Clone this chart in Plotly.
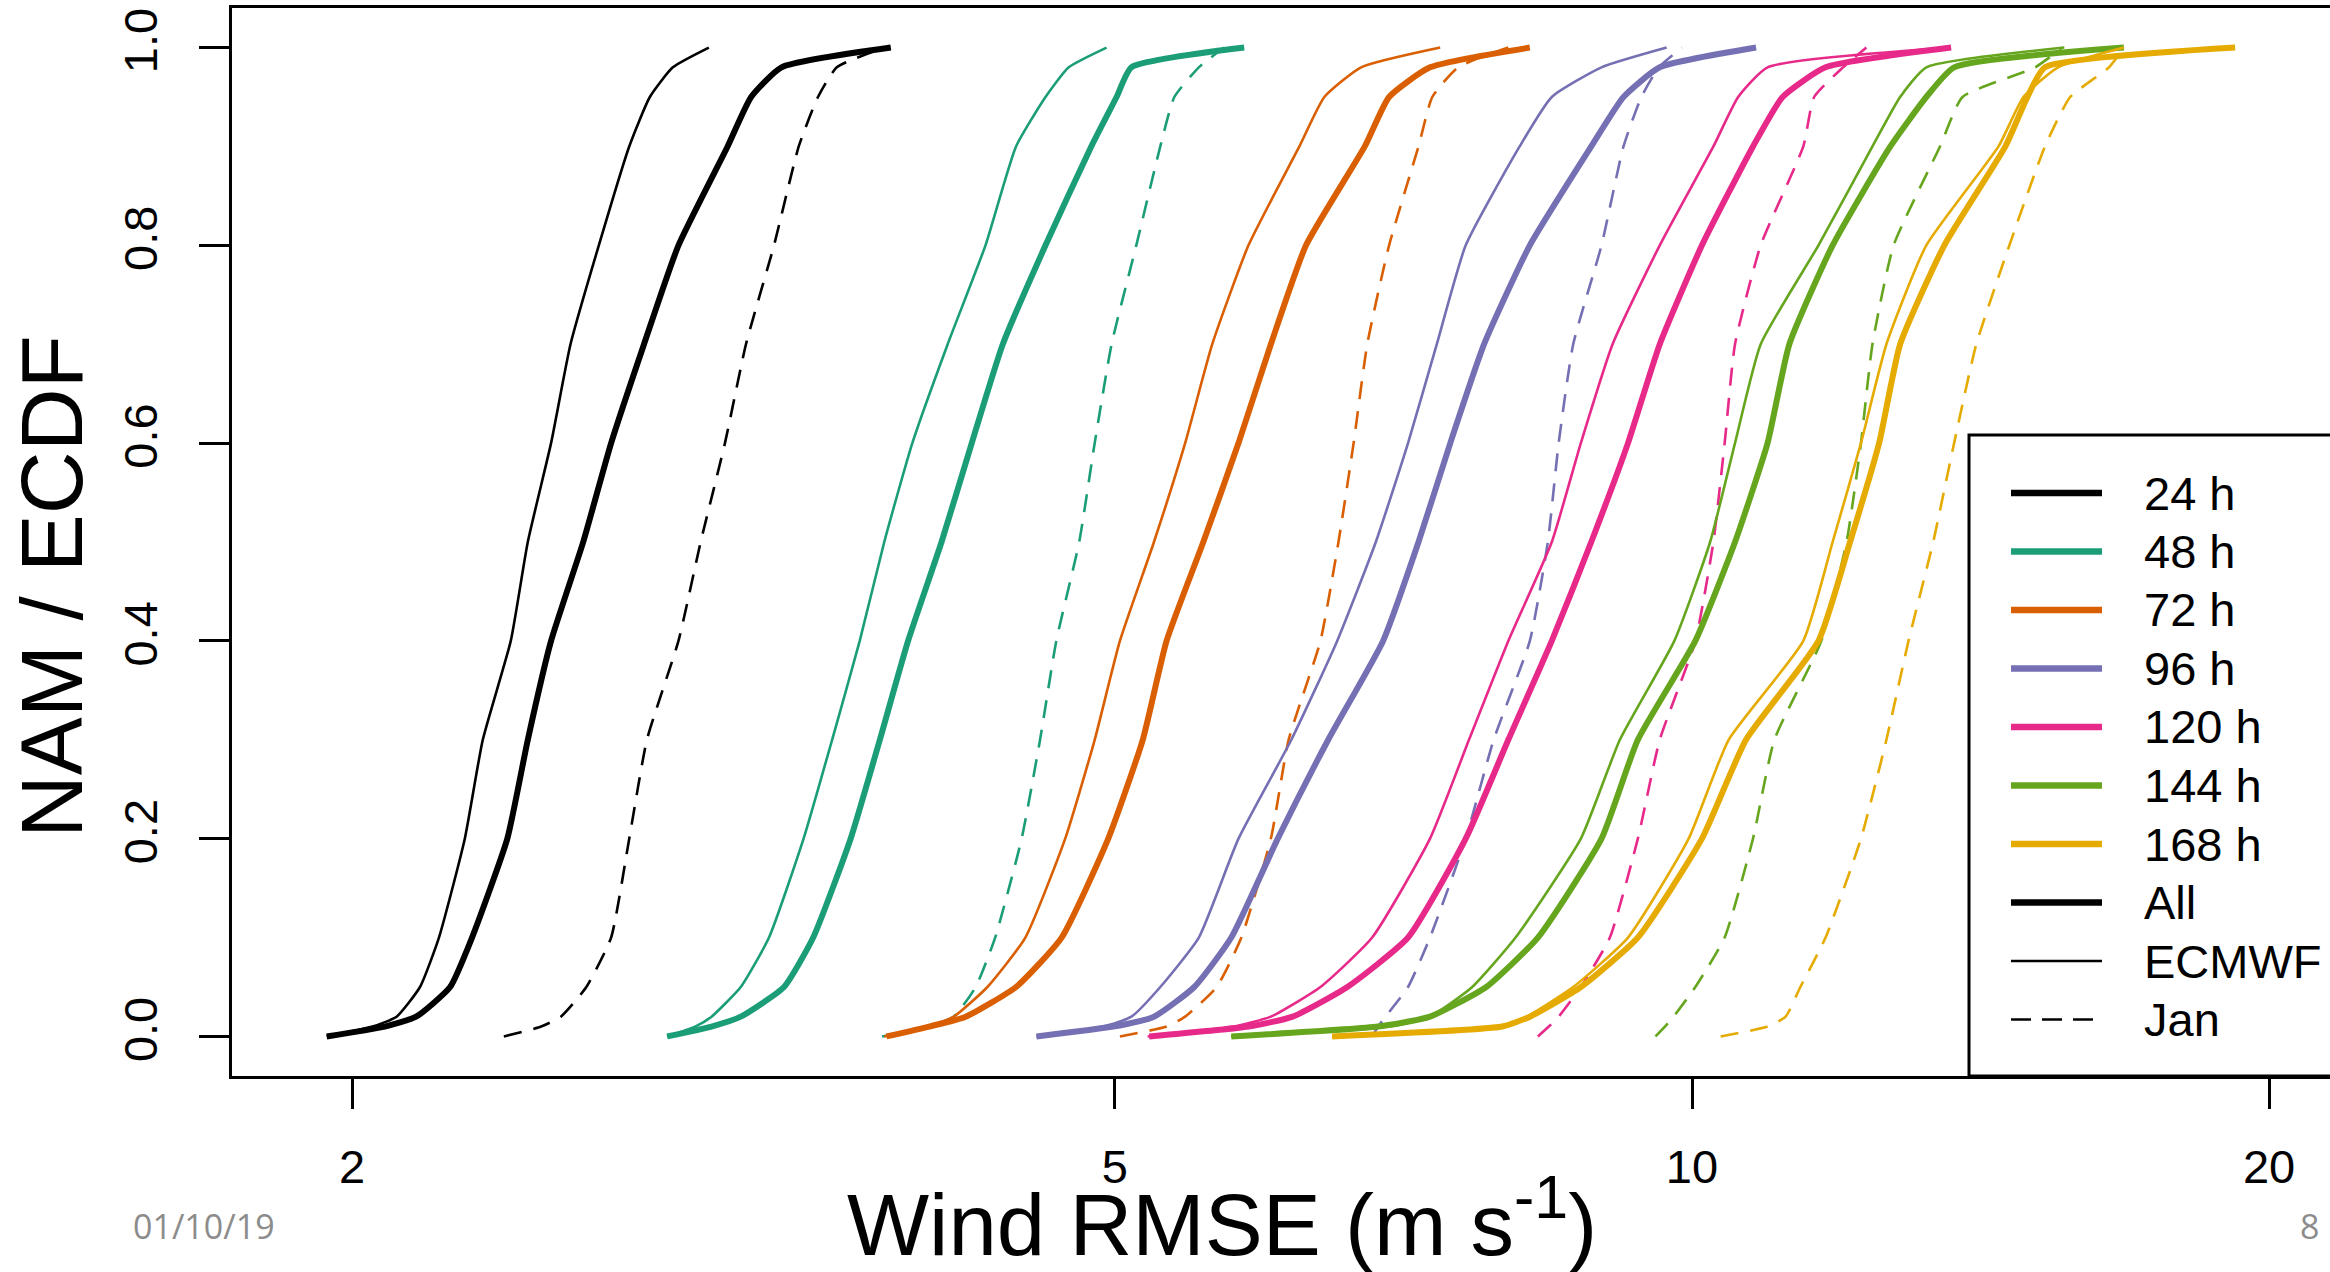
import plotly.graph_objects as go

# ---------------- data ----------------
PROB = [0, 0.01, 0.02, 0.05, 0.1, 0.2, 0.3, 0.4, 0.5, 0.6, 0.7, 0.8, 0.9, 0.95, 0.98, 1.0]

LEADS = ["24 h", "48 h", "72 h", "96 h", "120 h", "144 h", "168 h"]
COLORS = ["#000000", "#1B9E77", "#D95F02", "#7570B3", "#E7298A", "#66A61E", "#E6AB02"]

# Wind RMSE (m s-1) at each ECDF level in PROB
ALL_24 = [1.94, 2.08, 2.16, 2.25, 2.31, 2.41, 2.47, 2.54, 2.64, 2.73, 2.84, 2.96, 3.14, 3.23, 3.35, 3.82]
ALL_48 = [2.92, 3.08, 3.19, 3.36, 3.48, 3.64, 3.77, 3.90, 4.06, 4.21, 4.37, 4.60, 4.86, 5.01, 5.10, 5.84]
ALL_72 = [3.80, 4.00, 4.18, 4.44, 4.69, 4.96, 5.17, 5.32, 5.56, 5.80, 6.03, 6.29, 6.75, 6.95, 7.30, 8.23]
ALL_96 = [4.55, 4.99, 5.24, 5.50, 5.75, 6.08, 6.46, 6.90, 7.20, 7.48, 7.79, 8.23, 8.86, 9.21, 9.62, 10.80]
ALL_120 = [5.21, 5.87, 6.19, 6.61, 7.11, 7.62, 8.02, 8.45, 8.86, 9.26, 9.62, 10.12, 10.76, 11.15, 11.74, 13.65]
ALL_144 = [5.75, 6.86, 7.30, 7.81, 8.31, 8.97, 9.37, 10.04, 10.53, 10.95, 11.24, 11.84, 12.69, 13.25, 13.70, 16.80]
ALL_168 = [6.49, 7.96, 8.23, 8.75, 9.37, 10.12, 10.67, 11.64, 12.09, 12.52, 12.84, 13.54, 14.57, 14.96, 15.28, 19.20]

ECMWF_24 = [1.94, 2.05, 2.11, 2.17, 2.22, 2.29, 2.34, 2.42, 2.47, 2.54, 2.60, 2.69, 2.79, 2.86, 2.94, 3.07]
ECMWF_48 = [2.92, 3.02, 3.08, 3.19, 3.30, 3.44, 3.56, 3.68, 3.79, 3.92, 4.09, 4.28, 4.44, 4.60, 4.73, 4.95]
ECMWF_72 = [3.79, 4.00, 4.12, 4.29, 4.49, 4.71, 4.88, 5.03, 5.24, 5.44, 5.62, 5.87, 6.24, 6.43, 6.72, 7.39]
ECMWF_96 = [4.55, 4.93, 5.10, 5.28, 5.53, 5.80, 6.18, 6.53, 6.84, 7.11, 7.36, 7.62, 8.13, 8.45, 8.97, 9.70]
ECMWF_120 = [5.20, 5.77, 6.03, 6.40, 6.81, 7.30, 7.65, 8.02, 8.45, 8.75, 9.09, 9.62, 10.26, 10.57, 10.95, 13.65]
ECMWF_144 = [5.75, 6.95, 7.30, 7.68, 8.09, 8.75, 9.17, 9.79, 10.22, 10.53, 10.86, 11.64, 12.42, 12.84, 13.25, 15.64]
ECMWF_168 = [6.49, 7.96, 8.20, 8.67, 9.26, 9.96, 10.45, 11.43, 11.84, 12.25, 12.63, 13.25, 14.45, 14.89, 15.52, 16.80]

JAN_24 = [2.40, 2.51, 2.57, 2.65, 2.73, 2.79, 2.85, 2.96, 3.04, 3.13, 3.21, 3.32, 3.42, 3.50, 3.58, 3.79]
JAN_48 = [3.78, 4.00, 4.12, 4.23, 4.33, 4.47, 4.57, 4.66, 4.79, 4.88, 4.98, 5.13, 5.28, 5.37, 5.53, 5.70]
JAN_72 = [5.03, 5.32, 5.44, 5.65, 5.82, 6.03, 6.16, 6.40, 6.54, 6.66, 6.77, 6.95, 7.20, 7.32, 7.55, 8.02]
JAN_96 = [6.81, 6.86, 6.92, 7.11, 7.30, 7.62, 7.88, 8.23, 8.41, 8.52, 8.67, 8.97, 9.21, 9.41, 9.61, 9.88]
JAN_120 = [8.31, 8.42, 8.52, 8.75, 9.06, 9.37, 9.62, 10.04, 10.26, 10.40, 10.53, 10.86, 11.43, 11.58, 11.99, 12.33]
JAN_144 = [9.57, 9.68, 9.78, 10.04, 10.40, 10.76, 11.04, 11.68, 12.04, 12.25, 12.42, 12.74, 13.47, 13.84, 15.10, 15.60]
JAN_168 = [10.35, 10.95, 11.19, 11.39, 11.74, 12.25, 12.63, 12.97, 13.36, 13.70, 14.07, 14.64, 15.28, 15.75, 16.50, 16.80]

ALL = [ALL_24, ALL_48, ALL_72, ALL_96, ALL_120, ALL_144, ALL_168]
ECMWF = [ECMWF_24, ECMWF_48, ECMWF_72, ECMWF_96, ECMWF_120, ECMWF_144, ECMWF_168]
JAN = [JAN_24, JAN_48, JAN_72, JAN_96, JAN_120, JAN_144, JAN_168]

X_TICKS = [2, 5, 10, 20]
X_TICK_TEXT = ["2", "5", "10", "20"]
Y_TICKS = [0, 0.2, 0.4, 0.6, 0.8, 1.0]
Y_TICK_TEXT = ["0.0", "0.2", "0.4", "0.6", "0.8", "1.0"]
STYLE_LABELS = ["All", "ECMWF", "Jan"]

# ---------------- figure ----------------
W, H = 2330, 1272
ML, MR, MT, MB = 232, 0, 8, 196
PW, PH = W - ML - MR, H - MT - MB
FONT = "Liberation Sans, Arial, sans-serif"
THICK, THIN = 6, 2.6
DASH = "18px,12px"
SMOOTH = 0.5


def px(X):
    return (X - ML) / PW


def py(Y):
    return (H - MB - Y) / PH


fig = go.Figure()
for i, lead in enumerate(LEADS):
    c = COLORS[i]
    fig.add_trace(go.Scatter(x=ALL[i], y=PROB, mode="lines", name=lead + " All",
                             line=dict(color=c, width=THICK, shape="spline", smoothing=SMOOTH),
                             showlegend=False))
    fig.add_trace(go.Scatter(x=ECMWF[i], y=PROB, mode="lines", name=lead + " ECMWF",
                             line=dict(color=c, width=THIN, shape="spline", smoothing=SMOOTH),
                             showlegend=False))
    fig.add_trace(go.Scatter(x=JAN[i], y=PROB, mode="lines", name=lead + " Jan",
                             line=dict(color=c, width=THIN, dash=DASH, shape="spline",
                                       smoothing=SMOOTH),
                             showlegend=False))

shapes = []
annotations = []

# legend box
shapes.append(dict(type="rect", xref="paper", yref="paper",
                   x0=px(1969), x1=px(2345), y0=py(1076), y1=py(435),
                   line=dict(color="black", width=3), fillcolor="white", layer="above"))
entries = []
for i, lead in enumerate(LEADS):
    entries.append((lead, COLORS[i], 6.5, None))
entries.append((STYLE_LABELS[0], "#000000", 6.5, None))
entries.append((STYLE_LABELS[1], "#000000", 2.6, None))
entries.append((STYLE_LABELS[2], "#000000", 2.6, "20px,11px"))
for k, (lab, col, lw, dash) in enumerate(entries):
    Y = 493 + 58.5 * k
    ln = dict(color=col, width=lw)
    if dash:
        ln["dash"] = dash
    shapes.append(dict(type="line", xref="paper", yref="paper",
                       x0=px(2011), x1=px(2102), y0=py(Y), y1=py(Y), line=ln, layer="above"))
    annotations.append(dict(text=lab, xref="paper", yref="paper", x=px(2142), y=py(Y),
                            xanchor="left", yanchor="middle", showarrow=False,
                            font=dict(family=FONT, size=47, color="black")))

# axis titles
annotations.append(dict(text="Wind RMSE (m s<sup>-1</sup>)", xref="paper", yref="paper",
                        x=px(1222), y=py(1218), xanchor="center", yanchor="middle",
                        showarrow=False, font=dict(family=FONT, size=87, color="black")))
annotations.append(dict(text="NAM / ECDF", xref="paper", yref="paper", textangle=-90,
                        x=px(51), y=py(587), xanchor="center", yanchor="middle",
                        showarrow=False, font=dict(family=FONT, size=87, color="black")))
# slide footer
annotations.append(dict(text="01/10/19", xref="paper", yref="paper", x=px(204), y=py(1226),
                        xanchor="center", yanchor="middle", showarrow=False,
                        font=dict(family="Open Sans, sans-serif", size=34, color="#8c8c8c")))
annotations.append(dict(text="8", xref="paper", yref="paper", x=px(2309), y=py(1226),
                        xanchor="center", yanchor="middle", showarrow=False,
                        font=dict(family="Open Sans, sans-serif", size=34, color="#8c8c8c")))

fig.update_layout(
    width=W, height=H,
    margin=dict(l=ML, r=MR, t=MT, b=MB, pad=0),
    paper_bgcolor="white", plot_bgcolor="white",
    showlegend=False,
    shapes=shapes, annotations=annotations,
    xaxis=dict(type="log", range=[0.2384, 1.3328], tickmode="array",
               tickvals=X_TICKS, ticktext=X_TICK_TEXT,
               ticks="outside", ticklen=30, tickwidth=3, tickcolor="black",
               showline=True, linewidth=3, linecolor="black", mirror=True,
               showgrid=False, zeroline=False, ticklabelstandoff=18,
               tickfont=dict(family=FONT, size=47, color="black")),
    yaxis=dict(range=[-0.04, 1.04], tickmode="array",
               tickvals=Y_TICKS, ticktext=Y_TICK_TEXT, tickangle=-90,
               ticks="outside", ticklen=30, tickwidth=3, tickcolor="black",
               showline=True, linewidth=3, linecolor="black", mirror=False,
               showgrid=False, zeroline=False, ticklabelstandoff=23,
               tickfont=dict(family=FONT, size=47, color="black")),
)

fig.write_html("out.html")
